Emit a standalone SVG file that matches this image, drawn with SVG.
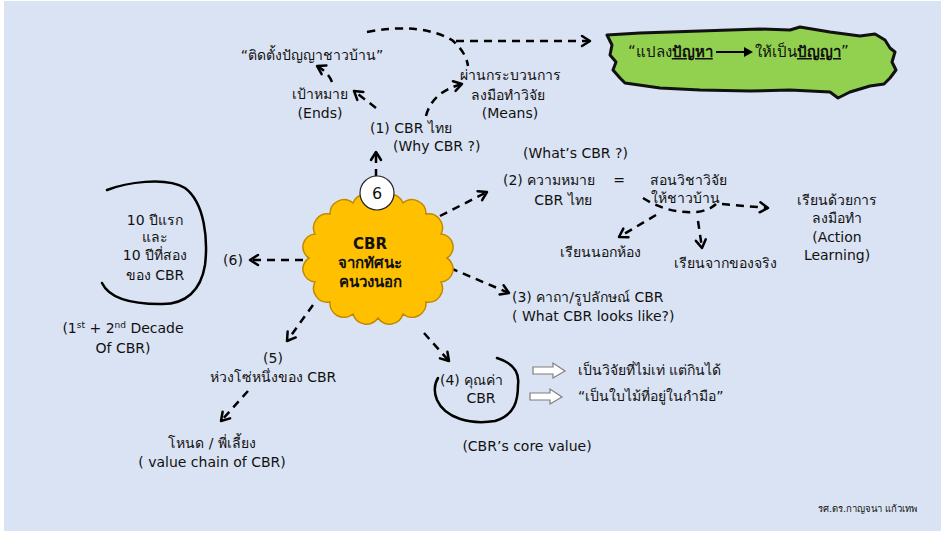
<svg xmlns="http://www.w3.org/2000/svg" width="945" height="540" viewBox="0 0 945 540">
<defs>
<marker id="ah" markerUnits="userSpaceOnUse" markerWidth="14" markerHeight="14" viewBox="-10 -7 12 14" refX="0" refY="0" orient="auto">
<path d="M-8,-5 L0,0 L-8,5" fill="none" stroke="#000" stroke-width="2.5" stroke-linecap="round" stroke-linejoin="round"/>
</marker>
<style>
text{font-family:"DejaVu Sans","Noto Sans",sans-serif;font-size:14px;fill:#111}
.m{text-anchor:middle}
.d{fill:none;stroke:#000;stroke-width:2.5;stroke-dasharray:8 6}
.a{marker-end:url(#ah)}
.hand{fill:none;stroke:#000;stroke-width:2.5;stroke-linecap:round}
.blk{fill:#fff;stroke:#7f7f7f;stroke-width:1.2}
.b{font-weight:bold}
</style>
</defs>
<rect x="0" y="0" width="945" height="540" fill="#fff"/>
<rect x="4" y="1" width="937" height="530" fill="#dae3f3"/>

<g id="connectors">
<path class="d a" d="M376,177 L376,152"/>
<path class="d a" d="M376,108 L354,91"/>
<path class="d a" d="M332,82 Q328,72 317,66"/>
<path class="d a" d="M426,116 Q432,92 462,84"/>
<path class="d" d="M367,32 Q420,22 452,40 Q466,52 468,66"/>
<path class="d a" d="M456,41 L590,41"/>
<path class="d a" d="M440,216 L487,192"/>
<path class="d" d="M643,198 Q668,214 697,212 Q710,210 716,204"/>
<path class="d a" d="M722,204 L768,208"/>
<path class="d a" d="M656,215 L619,237"/>
<path class="d a" d="M698,221 L702,248"/>
<path class="d a" d="M450,268 L509,293"/>
<path class="d a" d="M424,333 L449,361"/>
<path class="d a" d="M313,305 L287,341"/>
<path class="d a" d="M248,391 L221,421"/>
<path class="d a" d="M303,260 L250,260"/>
<path class="blk" d="M533,367 L553,367 L553,363 L565,371 L553,378 L553,374 L533,374 Z"/>
<path class="blk" d="M530,393 L550,393 L550,389 L562,397 L550,404 L550,400 L530,400 Z"/>
</g>

<g id="goal">
<path d="M607,35 L640,33 L700,31 L760,29 L790,30 L800,27 L830,32 L860,36 L875,34 L885,40 L890,48 L895,52 L892,62 L896,70 L890,78 L884,84 L870,86 L850,92 L838,98 L830,92 L790,90 L750,91 L700,90 L660,88 L625,83 L620,78 L613,70 L616,62 L610,55 L612,45 Z" fill="#92d050" stroke="#111" stroke-width="3" stroke-linejoin="round"/>
<text x="628" y="57" style="font-size:15px">“แปลง<tspan class="b" text-decoration="underline">ปัญหา</tspan></text>
<path d="M716,52 L746,52" stroke="#000" stroke-width="2"/>
<path d="M744,47 L753,52 L744,57 Z" fill="#000"/>
<text x="755" y="57" style="font-size:15px">ให้เป็น<tspan class="b" text-decoration="underline">ปัญญา</tspan>”</text>
</g>

<g id="ends">
<text class="m" x="312" y="60">“ติดตั้งปัญญาชาวบ้าน”</text>
<text class="m" x="320" y="99">เป้าหมาย</text>
<text class="m" x="320" y="118">(Ends)</text>
</g>

<g id="means">
<text class="m" x="510" y="80">ผ่านกระบวนการ</text>
<text class="m" x="508" y="100">ลงมือทำวิจัย</text>
<text class="m" x="510" y="118">(Means)</text>
</g>

<g id="n1">
<text x="370" y="133">(1) CBR ไทย</text>
<text x="393" y="151">(Why CBR ?)</text>
</g>

<g id="center">
<path d="M378,201 A14,14 0 0 1 403,203 A14,14 0 0 1 426,214 A14,14 0 0 1 441,234 A13,13 0 0 1 447,258 A13,13 0 0 1 441,282 A14,14 0 0 1 426,302 A14,14 0 0 1 403,314 A14,14 0 0 1 378,318 A14,14 0 0 1 353,314 A14,14 0 0 1 330,302 A14,14 0 0 1 315,282 A13,13 0 0 1 309,258 A13,13 0 0 1 315,234 A14,14 0 0 1 330,214 A14,14 0 0 1 353,203 A14,14 0 0 1 378,201 Z" fill="#ffc000" stroke="#c08a00" stroke-width="1.5"/>
<text class="m b" x="370" y="249" style="font-size:15px">CBR</text>
<text class="m b" x="370" y="268" style="font-size:15px">จากทัศนะ</text>
<text class="m b" x="370" y="287" style="font-size:15px">คนวงนอก</text>
</g>

<g id="badge6">
<circle cx="377" cy="193" r="17" fill="#fff" stroke="#222" stroke-width="1.2"/>
<text class="m" x="377" y="199" style="font-size:16px">6</text>
</g>

<g id="n2">
<text x="523" y="158">(What’s CBR ?)</text>
<text x="503" y="185">(2) ความหมาย</text>
<text class="m" x="563" y="205">CBR ไทย</text>
<text class="m" x="619" y="185">=</text>
<text class="m" x="688" y="185">สอนวิชาวิจัย</text>
<text class="m" x="685" y="203">ให้ชาวบ้าน</text>
</g>

<g id="action">
<text class="m" x="837" y="205">เรียนด้วยการ</text>
<text class="m" x="837" y="223">ลงมือทำ</text>
<text class="m" x="837" y="242">(Action</text>
<text class="m" x="837" y="260">Learning)</text>
</g>
<g id="outside"><text class="m" x="600" y="257">เรียนนอกห้อง</text></g>
<g id="real"><text class="m" x="725" y="268">เรียนจากของจริง</text></g>

<g id="n3">
<text x="512" y="302">(3) คาถา/รูปลักษณ์ CBR</text>
<text x="512" y="321">( What CBR looks like?)</text>
</g>

<g id="n4">
<path class="hand" d="M497,358 C510,362 520,370 518,385 C518,400 515,415 495,421 C470,425 445,418 437,400 C433,390 435,383 438,378"/>
<text x="440" y="385">(4) คุณค่า</text>
<text class="m" x="481" y="403">CBR</text>
<text class="m" x="527" y="451">(CBR’s core value)</text>
</g>
<g id="v1"><text x="578" y="375">เป็นวิจัยที่ไม่เท่ แต่กินได้</text></g>
<g id="v2"><text x="578" y="401">“เป็นใบไม้ที่อยู่ในกำมือ”</text></g>

<g id="n5">
<text class="m" x="273" y="363">(5)</text>
<text class="m" x="273" y="382">ห่วงโซ่หนึ่งของ CBR</text>
</g>
<g id="chain">
<text class="m" x="212" y="448">โหนด / พี่เลี้ยง</text>
<text class="m" x="212" y="467">( value chain of CBR)</text>
</g>

<g id="n6"><text class="m" x="233" y="265">(6)</text></g>
<g id="decades">
<path class="hand" d="M107,190 C125,183 165,176 185,188 C205,203 208,240 205,265 C201,290 186,305 160,304 C135,304 110,300 102,283"/>
<text class="m" x="155" y="225">10 ปีแรก</text>
<text class="m" x="155" y="242">และ</text>
<text class="m" x="155" y="260">10 ปีที่สอง</text>
<text class="m" x="155" y="280">ของ CBR</text>
<text class="m" x="123" y="333">(1<tspan dy="-5" style="font-size:9px">st</tspan><tspan dy="5"> + 2</tspan><tspan dy="-5" style="font-size:9px">nd</tspan><tspan dy="5"> Decade</tspan></text>
<text class="m" x="123" y="353">Of CBR)</text>
</g>

<g id="author"><text x="818" y="512" style="font-size:9.5px">รศ.ดร.กาญจนา แก้วเทพ</text></g>
</svg>
